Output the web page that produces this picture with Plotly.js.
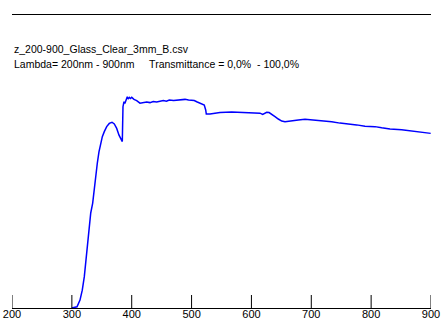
<!DOCTYPE html>
<html>
<head>
<meta charset="utf-8">
<script src="https://cdn.plot.ly/plotly-3.0.1.min.js"></script>
<style>html,body{margin:0;padding:0;background:#fff;}#chart{width:443px;height:323px;}</style>
</head>
<body>
<div id="chart"></div>
<script>
// Wavelength (nm)
const wavelength = [300, 305, 308.6, 313.6, 317.4, 320.8, 323.6, 325.8, 328.6, 331.5, 334.8, 337.0, 339.8, 342.5, 345.3, 348.2, 350.9, 354.2, 358.2, 362.5, 367.1, 370.9, 374.9, 378.8, 381.6, 383.8, 384.3, 385.4, 387.1, 388.5, 390.4, 392.6, 394.2, 396.0, 398.0, 400.0, 403.8, 408.3, 413.8, 419.3, 425.0, 430.5, 436.0, 441.7, 447.0, 452.8, 458.0, 462.8, 470.0, 477.8, 483.0, 489.0, 495.0, 500.2, 504.5, 508.6, 512.5, 516.9, 521.2, 523.6, 524.6, 530.8, 539.1, 547.5, 567.0, 580.0, 594.8, 614.3, 618.8, 621.5, 625.5, 629.5, 633.8, 639.4, 644.9, 650.6, 656.1, 664.4, 678.3, 689.5, 703.3, 720.0, 734.1, 747.9, 761.8, 775.8, 789.7, 806.4, 817.6, 831.5, 851.0, 864.9, 878.7, 889.9, 894.0, 899.5];
// Transmittance (%)
const transmittance = [0.0, 0.2, 0.4, 2.7, 6.1, 10.7, 16.4, 22.2, 27.7, 32.4, 35.8, 40.3, 44.8, 49.4, 53.3, 56.2, 58.5, 60.2, 61.9, 63.0, 63.4, 62.8, 61.3, 59.0, 57.6, 56.8, 56.8, 68.7, 70.4, 69.8, 71.0, 72.1, 71.3, 71.9, 71.5, 71.9, 71.2, 70.8, 69.9, 70.1, 70.3, 70.1, 70.5, 70.3, 70.6, 70.8, 70.6, 71.0, 70.8, 71.0, 71.2, 71.2, 71.0, 71.0, 70.8, 70.4, 70.0, 69.6, 69.3, 67.6, 66.2, 66.2, 66.5, 66.7, 66.9, 66.8, 66.5, 66.5, 66.1, 66.4, 66.8, 66.7, 66.2, 65.3, 64.5, 63.8, 63.6, 63.9, 64.2, 64.4, 64.2, 63.8, 63.6, 63.1, 62.9, 62.5, 62.0, 61.9, 61.5, 61.1, 60.8, 60.4, 60.0, 59.7, 59.8, 59.6];
const tickValues = [200, 300, 400, 500, 600, 700, 800, 900];
const tickLabels = ["200", "300", "400", "500", "600", "700", "800", "900"];
const fileLabel = "z_200-900_Glass_Clear_3mm_B.csv";
const rangeLabel = "Lambda= 200nm - 900nm\u00a0\u00a0\u00a0\u00a0\u00a0Transmittance = 0,0%\u00a0\u00a0- 100,0%";

const trace = {
  x: wavelength, y: transmittance, type: 'scatter', mode: 'lines',
  line: {color: '#0000ff', width: 1.5}, hoverinfo: 'skip'
};
const font = {family: 'Liberation Sans, Arial, sans-serif', size: 10.5, color: '#000'};
// tick marks drawn through the x axis scale, one per tick value
const tickShapes = tickValues.map(v => ({
  type: 'line', xref: 'x', yref: 'paper', x0: v, x1: v, y0: 0, y1: 13 / 293,
  line: {color: '#000', width: 1}, layer: 'above'
}));
const layout = {
  width: 443, height: 323,
  margin: {l: 12, r: 12, t: 15, b: 15, pad: 0},
  paper_bgcolor: '#fff', plot_bgcolor: '#fff',
  showlegend: false,
  xaxis: {
    range: [200, 900], tickmode: 'array', tickvals: tickValues, ticktext: tickLabels,
    ticks: '', 
    showline: true, mirror: true, linecolor: '#000', linewidth: 1,
    showgrid: false, zeroline: false, fixedrange: true,
    tickfont: {family: 'Liberation Sans, Arial, sans-serif', size: 11, color: '#000'},
    ticklabelstandoff: -4
  },
  yaxis: {range: [0, 100], visible: false, showgrid: false, zeroline: false, fixedrange: true},
  shapes: tickShapes,
  annotations: [
    {text: fileLabel, xref: 'paper', yref: 'paper', x: 0, y: (308 - 49) / 293, xanchor: 'left', yanchor: 'middle', showarrow: false, font: font},
    {text: rangeLabel, xref: 'paper', yref: 'paper', x: 0, y: (308 - 64) / 293, xanchor: 'left', yanchor: 'middle', showarrow: false, font: font}
  ]
};
Plotly.newPlot('chart', [trace], layout, {displayModeBar: false, staticPlot: true});
</script>
</body>
</html>
